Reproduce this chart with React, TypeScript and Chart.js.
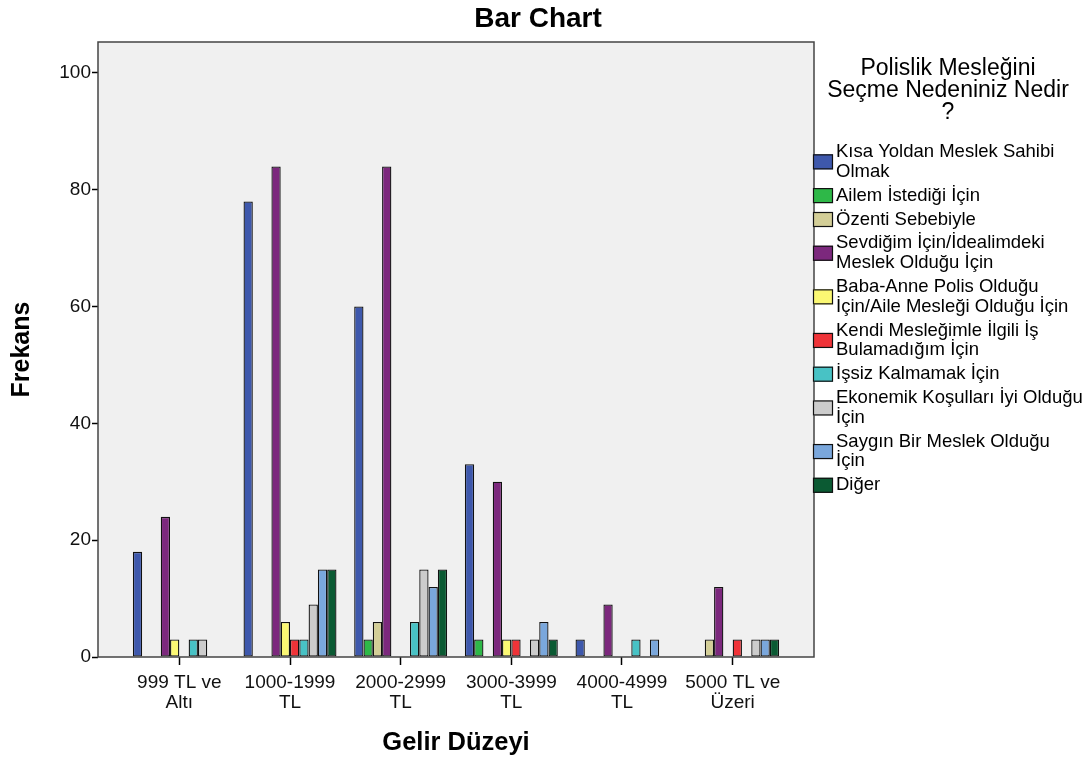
import React, { useEffect, useRef } from 'react';
import { Chart, registerables } from 'chart.js';

Chart.register(...registerables);

// ---- Data ----
const categories: string[][] = [
  ['999 TL ve', 'Altı'],
  ['1000-1999', 'TL'],
  ['2000-2999', 'TL'],
  ['3000-3999', 'TL'],
  ['4000-4999', 'TL'],
  ['5000 TL ve', 'Üzeri'],
];

const seriesLines: string[][] = [
  ['Kısa Yoldan Meslek Sahibi', 'Olmak'],
  ['Ailem İstediği İçin'],
  ['Özenti Sebebiyle'],
  ['Sevdiğim İçin/İdealimdeki', 'Meslek Olduğu İçin'],
  ['Baba-Anne Polis Olduğu', 'İçin/Aile Mesleği Olduğu İçin'],
  ['Kendi Mesleğimle İlgili İş', 'Bulamadığım İçin'],
  ['İşsiz Kalmamak İçin'],
  ['Ekonemik Koşulları İyi Olduğu', 'İçin'],
  ['Saygın Bir Meslek Olduğu', 'İçin'],
  ['Diğer'],
];

const kisaYoldan = [18, 78, 60, 33, 3, 0];
const ailemIstedigi = [0, 0, 3, 3, 0, 0];
const ozenti = [0, 0, 6, 0, 0, 3];
const sevdigim = [24, 84, 84, 30, 9, 12];
const babaAnne = [3, 6, 0, 3, 0, 0];
const kendiMeslegim = [0, 3, 0, 3, 0, 3];
const issizKalmamak = [3, 3, 6, 0, 3, 0];
const ekonomik = [3, 9, 15, 3, 0, 3];
const saygin = [0, 15, 12, 6, 3, 3];
const diger = [0, 15, 15, 3, 0, 3];

const seriesValues = [
  kisaYoldan, ailemIstedigi, ozenti, sevdigim, babaAnne,
  kendiMeslegim, issizKalmamak, ekonomik, saygin, diger,
];

const seriesColors = [
  '#3e58ac', '#2eb848', '#d3ce97', '#7c287d', '#fbf873',
  '#ef3338', '#48c2c5', '#cccccc', '#7aa7dc', '#0b5a33',
];

const yTicks = [0, 20, 40, 60, 80, 100];
const legendTitle = ['Polislik Mesleğini', 'Seçme Nedeniniz Nedir', '?'];
const chartTitle = 'Bar Chart';
const xTitle = 'Gelir Düzeyi';
const yTitle = 'Frekans';

const FONT = '"Liberation Sans", Arial, Helvetica, sans-serif';

export default function App() {
  const canvasRef = useRef<HTMLCanvasElement | null>(null);

  useEffect(() => {
    if (!canvasRef.current) return;

    const decorPlugin = {
      id: 'decor',
      beforeDraw(chart: any) {
        const { ctx, chartArea } = chart;
        ctx.save();
        ctx.fillStyle = '#f0f0f0';
        ctx.fillRect(chartArea.left, chartArea.top, chartArea.right - chartArea.left, chartArea.bottom - chartArea.top);
        ctx.restore();
      },
      afterDraw(chart: any) {
        const { ctx, chartArea } = chart;
        ctx.save();
        // plot frame
        ctx.strokeStyle = '#444444';
        ctx.lineWidth = 1.5;
        ctx.strokeRect(chartArea.left, chartArea.top, chartArea.right - chartArea.left, chartArea.bottom - chartArea.top);

        // chart title
        ctx.fillStyle = '#000';
        ctx.font = `bold 28px ${FONT}`;
        ctx.textAlign = 'center';
        ctx.textBaseline = 'middle';
        ctx.fillText(chartTitle, 538, 19);

        // legend title
        ctx.font = `23px ${FONT}`;
        legendTitle.forEach((t, i) => ctx.fillText(t, 948, 69 + i * 22));

        // legend items
        ctx.textAlign = 'left';
        ctx.font = `18.5px ${FONT}`;
        const lh = 19.7;
        const gap = 23.9;
        let y = 152;
        chart.data.datasets.forEach((ds: any, i: number) => {
          const lines = seriesLines[i];
          const center = y + ((lines.length - 1) * lh) / 2;
          ctx.fillStyle = ds.backgroundColor;
          ctx.fillRect(813, center - 7.5, 20, 15);
          ctx.strokeStyle = '#111';
          ctx.lineWidth = 1.2;
          ctx.strokeRect(813.5, center - 7, 19, 14);
          ctx.fillStyle = '#000';
          lines.forEach((l, j) => ctx.fillText(l, 836, y + j * lh));
          y += (lines.length - 1) * lh + gap;
        });
        ctx.restore();
      },
    };

    const chart = new Chart(canvasRef.current, {
      type: 'bar',
      data: {
        labels: categories,
        datasets: seriesValues.map((vals, i) => ({
          label: seriesLines[i].join(' '),
          data: vals,
          backgroundColor: seriesColors[i],
          borderColor: '#111111',
          borderWidth: 1.3,
          borderSkipped: false,
          categoryPercentage: 0.84,
          barPercentage: 1,
        })),
      },
      options: {
        animation: false,
        responsive: true,
        maintainAspectRatio: false,
        layout: { padding: { left: 0, top: 42, right: 276, bottom: 0 } },
        plugins: {
          legend: { display: false },
          title: { display: false },
          tooltip: { enabled: false },
        },
        scales: {
          x: {
            type: 'category',
            offset: true,
            border: { display: false },
            grid: {
              offset: false,
              drawOnChartArea: false,
              drawTicks: true,
              tickLength: 8,
              tickColor: '#000',
              tickWidth: 1.5,
            },
            ticks: {
              color: '#111',
              font: { family: FONT, size: 19, lineHeight: 1.03 },
              padding: 8,
              maxRotation: 0,
              autoSkip: false,
            },
            title: {
              display: true,
              text: xTitle,
              color: '#000',
              font: { family: FONT, size: 25.5, weight: 'bold', lineHeight: 1.2 },
              padding: { top: 0, bottom: 7 },
            },
            afterBuildTicks: (scale: any) => {
              const pad = 0.235;
              scale._startValue = -0.5 - pad;
              scale._valueRange = scale.getLabels().length + 2 * pad;
            },
            afterFit: (scale: any) => {
              scale.height = 108;
            },
          } as any,
          y: {
            min: 0,
            max: 105.3,
            border: { display: false },
            grid: {
              drawOnChartArea: false,
              drawTicks: true,
              tickLength: 6,
              tickColor: '#000',
              tickWidth: 1.5,
            },
            ticks: {
              color: '#111',
              stepSize: 20,
              includeBounds: false,
              padding: 1,
              font: { family: FONT, size: 19 },
              callback: (v: any) => (yTicks.includes(Number(v)) ? String(v) : ''),
            },
            title: {
              display: true,
              text: yTitle,
              color: '#000',
              font: { family: FONT, size: 25, weight: 'bold', lineHeight: 1.2 },
              padding: { top: 7, bottom: 0 },
            },
            afterFit: (scale: any) => {
              scale.width = 98;
            },
          } as any,
        },
      },
      plugins: [decorPlugin],
    });

    return () => chart.destroy();
  }, []);

  return (
    <div style={{ position: 'fixed', left: 0, top: 0, width: 1090, height: 765, background: '#fff' }}>
      <canvas ref={canvasRef} />
    </div>
  );
}
